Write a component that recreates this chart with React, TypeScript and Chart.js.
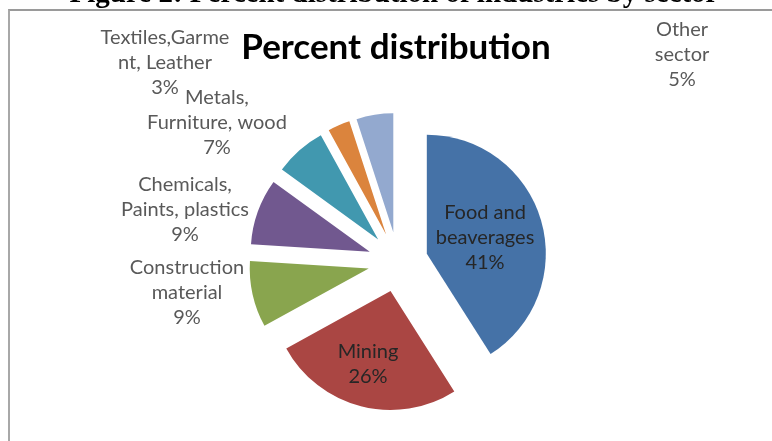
import React, { useEffect, useRef } from "react";
import { Chart, registerables } from "chart.js";

Chart.register(...registerables);

// ---- data ----
const categories = [
  "Food and beaverages",
  "Mining",
  "Construction material",
  "Chemicals, Paints, plastics",
  "Metals, Furniture, wood",
  "Textiles,Garment, Leather",
  "Other sector",
];
const labelLines = [
  ["Food and", "beaverages"],
  ["Mining"],
  ["Construction", "material"],
  ["Chemicals,", "Paints, plastics"],
  ["Metals,", "Furniture, wood"],
  ["Textiles,Garme", "nt, Leather"],
  ["Other", "sector"],
];
const percents = [41, 26, 9, 9, 7, 3, 5];
const colors = ["#4572A7", "#AA4643", "#89A54E", "#71588F", "#4198AF", "#DB843D", "#93A9CF"];
const chartTitle = "Percent distribution";
const caption = "Figure 2: Percent distribution of industries by sector";

// ---- layout (label centre x, first-line centre y, inside slice?) ----
const labelLayout = [
  { x: 485, y: 213, inside: true },
  { x: 368, y: 352, inside: true },
  { x: 187, y: 268, inside: false },
  { x: 185, y: 185, inside: false },
  { x: 217, y: 98, inside: false },
  { x: 165, y: 38, inside: false },
  { x: 682, y: 30, inside: false },
];
const LINE_H = 25;
const EXPLODE = 30;
const RADIUS = 119;

const explodePlugin = {
  id: "explode",
  beforeDatasetDraw(chart: any, args: any) {
    const ctx = chart.ctx;
    args.meta.data.forEach((arc: any) => {
      const mid = (arc.startAngle + arc.endAngle) / 2;
      ctx.save();
      ctx.translate(Math.cos(mid) * EXPLODE, Math.sin(mid) * EXPLODE);
      arc.draw(ctx);
      ctx.restore();
    });
    return false;
  },
};

const textPlugin = {
  id: "texts",
  afterDraw(chart: any) {
    const ctx = chart.ctx as CanvasRenderingContext2D;
    ctx.save();
    // caption (cut off at the top)
    ctx.fillStyle = "#000";
    ctx.font = "bold 29px 'Liberation Serif'";
    ctx.textAlign = "center";
    ctx.textBaseline = "alphabetic";
    ctx.fillText(caption, 394, 2);
    // title
    ctx.font = "bold 35px Lato";
    ctx.textBaseline = "middle";
    ctx.fillText(chartTitle, 396, 48);
    // data labels
    ctx.font = "20px Lato";
    labelLayout.forEach((p, i) => {
      const lines = [...labelLines[i], `${percents[i]}%`];
      ctx.fillStyle = p.inside ? "#262626" : "#595959";
      lines.forEach((ln, j) => ctx.fillText(ln, p.x, p.y + j * LINE_H));
    });
    ctx.restore();
  },
};

export default function App() {
  const ref = useRef<HTMLCanvasElement>(null);
  useEffect(() => {
    if (!ref.current) return;
    const chart = new Chart(ref.current, {
      type: "pie",
      data: {
        labels: categories,
        datasets: [
          {
            data: percents,
            backgroundColor: colors,
            borderWidth: 0,
          },
        ],
      },
      options: {
        responsive: false,
        animation: false,
        radius: RADIUS,
        layout: { padding: { left: 24, right: 0, top: 83, bottom: 0 } },
        plugins: {
          legend: { display: false },
          title: { display: false },
          tooltip: { enabled: false },
        },
      } as any,
      plugins: [explodePlugin, textPlugin],
    });
    return () => chart.destroy();
  }, []);
  return (
    <div style={{ position: "absolute", left: 0, top: 0, width: 772, height: 441, overflow: "hidden", background: "#fff" }}>
      <div
        style={{
          position: "absolute",
          left: 8,
          top: 9,
          width: 900,
          height: 600,
          borderTop: "2px solid #9a9a9a",
          borderLeft: "2px solid #a8a8a8",
        }}
      />
      <canvas ref={ref} width={772} height={441} style={{ position: "absolute", left: 0, top: 0 }} />
    </div>
  );
}
